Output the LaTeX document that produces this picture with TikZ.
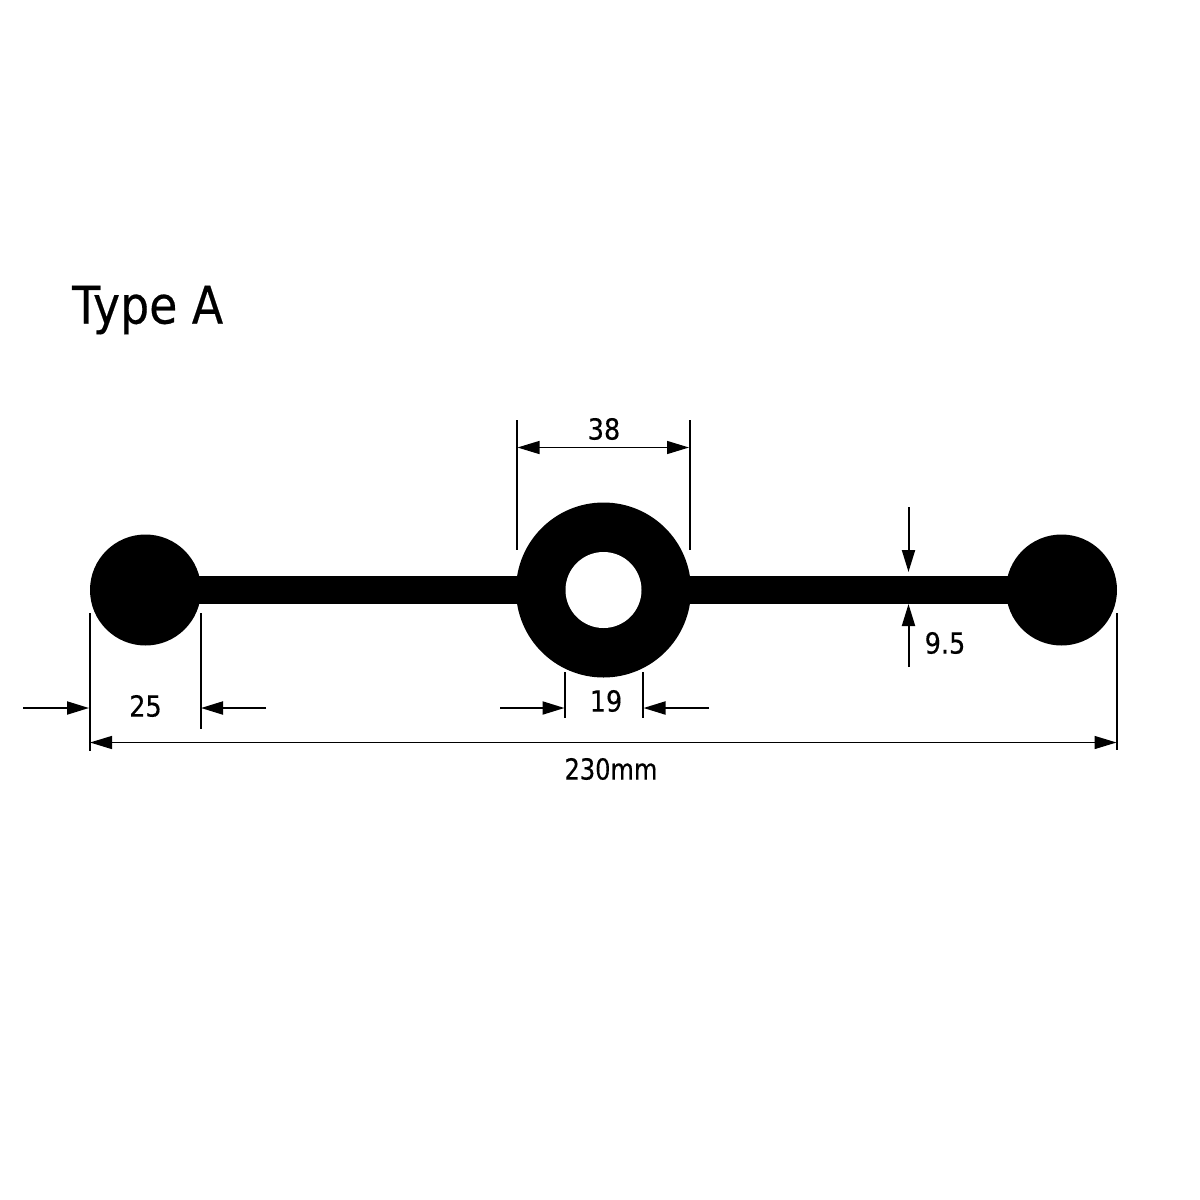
\documentclass[tikz,border=0pt]{standalone}
\usepackage{fontspec}
\setmainfont[FakeStretch=0.88,FakeBold=0.35]{DejaVu Sans}
\newfontfamily\narrowfont[FakeStretch=0.83,FakeBold=0.35]{DejaVu Sans}
\usetikzlibrary{arrows.meta}
\tikzset{
  profile/.style={fill=black,draw=none},
  hole/.style={fill=white,draw=none},
  extline/.style={draw=black,line width=2pt},
  dimthick/.style={draw=black,line width=2pt,-{Triangle[length=22pt,width=13pt]}},
  dimboth/.style={draw=black,line width=1.4pt,{Triangle[length=22pt,width=13pt]}-{Triangle[length=22pt,width=13pt]}},
  dimlabel/.style={font=\fontsize{29pt}{29pt}\selectfont,inner sep=0pt,text=black},
  titlelabel/.style={font=\fontsize{52pt}{52pt}\selectfont,inner sep=0pt,text=black,anchor=west}
}
\begin{document}
\begin{tikzpicture}[x=1pt,y=-1pt]
\useasboundingbox[fill=white] (0,0) rectangle (1200,1200);
% profile
\fill[profile] (145.5,590) circle[radius=55.5];
\fill[profile] (1061.5,590) circle[radius=55.5];
\fill[profile] (145.5,576) rectangle (1061.5,604);
\fill[profile] (603.5,590) circle[radius=87.5];
\fill[hole] (603.5,590) circle[radius=38];
% end points
\coordinate (a1) at (90,613);      \coordinate (a2) at (90,750.5);
\coordinate (b1) at (200.5,613);   \coordinate (b2) at (200.5,728.5);
\coordinate (c1) at (1117,613);    \coordinate (c2) at (1117,750);
\coordinate (d1) at (517,420);     \coordinate (d2) at (517,550);
\coordinate (e1) at (689.5,420);   \coordinate (e2) at (689.5,550);
\coordinate (f1) at (565,672);     \coordinate (f2) at (565,717.5);
\coordinate (g1) at (643,672);     \coordinate (g2) at (643,717.5);
\foreach \p/\q in {a1/a2,b1/b2,c1/c2,d1/d2,e1/e2,f1/f2,g1/g2}
  \draw[extline] (\p) -- (\q);
% 25
\coordinate (s25l) at (23,708);   \coordinate (t25l) at (89,708);
\coordinate (s25r) at (266,708);  \coordinate (t25r) at (201,708);
\draw[dimthick] (s25l) -- (t25l);
\draw[dimthick] (s25r) -- (t25r);
% 19
\coordinate (s19l) at (500,708);  \coordinate (t19l) at (564.5,708);
\coordinate (s19r) at (709,708);  \coordinate (t19r) at (643.5,708);
\draw[dimthick] (s19l) -- (t19l);
\draw[dimthick] (s19r) -- (t19r);
% 230
\coordinate (l230) at (90,742.5); \coordinate (r230) at (1116.5,742.5);
\draw[dimboth] (l230) -- (r230);
% 38
\coordinate (l38) at (517.5,447.5); \coordinate (r38) at (689,447.5);
\draw[dimboth] (l38) -- (r38);
% 9.5
\coordinate (s95t) at (908.5,507); \coordinate (t95t) at (908.5,572);
\coordinate (s95b) at (908.5,667); \coordinate (t95b) at (908.5,604);
\draw[dimthick] (s95t) -- (t95t);
\draw[dimthick] (s95b) -- (t95b);
% labels
\node[titlelabel] (title) at (72,310) {Type A};
\node[dimlabel] (n38) at (604,429) {38};
\node[dimlabel] (n25) at (145.5,706) {25};
\node[dimlabel] (n19) at (606,701) {19};
\node[dimlabel] (n230) at (611,769) {\narrowfont 230mm};
\node[dimlabel] (n95) at (945,643) {9.5};
\end{tikzpicture}
\end{document}
